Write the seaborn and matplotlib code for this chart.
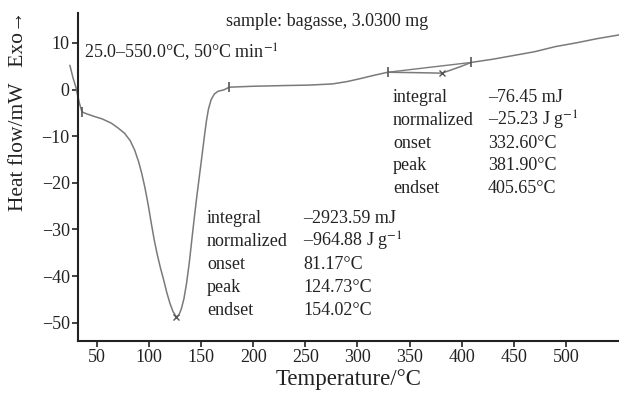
import matplotlib
matplotlib.use("Agg")
import matplotlib.pyplot as plt
import seaborn as sns
import pandas as pd

# ---- data ----
temperature = [24, 27, 30, 33, 35.6, 40, 47.8, 55, 63.7, 70, 76.6, 82, 86.2, 90, 93,
               96, 99, 102, 105, 108, 111, 114, 117, 120, 123, 126, 128.5, 131, 133.5,
               136, 138.5, 141, 143.5, 146, 148.5, 151, 153, 155, 157, 159.5, 162.5,
               166, 172, 177, 200, 230, 254, 276, 290, 302, 315, 322, 329, 345, 360,
               372, 381, 390, 400, 409, 430, 450, 470, 490, 510, 530, 551]
heat_flow = [5.2, 2.5, 0.3, -2.8, -4.8, -5.2, -5.8, -6.3, -7.2, -8.2, -9.4, -11.0,
             -13.0, -15.5, -18.0, -21.0, -24.5, -28.5, -32.3, -35.5, -38.3, -40.8,
             -43.5, -45.8, -47.6, -48.7, -48.4, -47.0, -44.8, -41.5, -37.3, -32.3,
             -27.3, -22.6, -18.2, -13.8, -10.2, -6.8, -4.2, -2.2, -1.0, -0.4, -0.05,
             0.5, 0.7, 0.85, 0.95, 1.2, 1.7, 2.3, 3.0, 3.35, 3.7, 3.65, 3.6, 3.55,
             3.5, 4.2, 5.0, 5.8, 6.5, 7.3, 8.1, 9.2, 10.0, 10.9, 11.7]
baseline_T = [329, 409]
baseline_HF = [3.7, 5.8]
limit_T = [35.6, 177, 329, 409]
limit_HF = [-4.8, 0.5, 3.7, 5.8]
peak_T = [126, 381]
peak_HF = [-48.7, 3.5]
x_ticks = [50, 100, 150, 200, 250, 300, 350, 400, 450, 500]
y_ticks = [-50, -40, -30, -20, -10, 0, 10]

table1_labels = ["integral", "normalized", "onset", "peak", "endset"]
table1_values = ["–2923.59 mJ", "–964.88 J g$^{-1}$", "81.17°C", "124.73°C", "154.02°C"]
table2_labels = ["integral", "normalized", "onset", "peak", "endset"]
table2_values = ["–76.45 mJ", "–25.23 J g$^{-1}$", "332.60°C", "381.90°C", "405.65°C"]

sns.set_theme(style="ticks")
plt.rcParams["font.family"] = ["Liberation Serif", "DejaVu Serif"]
plt.rcParams["mathtext.fontset"] = "stix"

W, H = 619, 398
fig = plt.figure(figsize=(W / 100, H / 100), dpi=100)
ax = fig.add_axes([78 / W, 1 - 341 / H, 541 / W, 328 / H])

curve = pd.DataFrame({"T": temperature, "HF": heat_flow})
sns.lineplot(data=curve, x="T", y="HF", sort=False, estimator=None, ax=ax,
             color="#7a7a7a", linewidth=1.1)
ax.lines[-1].set_clip_on(False)
sns.lineplot(x=baseline_T, y=baseline_HF, sort=False, estimator=None, ax=ax,
             color="#7a7a7a", linewidth=1.0)
ax.plot(limit_T, limit_HF, linestyle="none", marker="|", markersize=7,
        markeredgewidth=1.2, color="#555555")
ax.plot(peak_T, peak_HF, linestyle="none", marker="x", markersize=4,
        markeredgewidth=1.0, color="#555555")

ax.set_xlim(31.8, 551)
ax.set_ylim(-53.9, 16.4)
ax.set_xticks(x_ticks)
ax.set_yticks(y_ticks)
sns.despine(ax=ax)
for s in ("left", "bottom"):
    ax.spines[s].set_color("#222222")
    ax.spines[s].set_linewidth(1.5)
ax.tick_params(axis="both", direction="out", length=4, width=1.2, color="#222222",
               labelsize=13, labelcolor="#222222", pad=2)

ax.set_xlabel("Temperature/°C", fontsize=16.5, color="#222222", labelpad=2)
ax.set_ylabel("Heat flow/mW   Exo→", fontsize=15.5, color="#222222")
ax.yaxis.set_label_coords((28 - 78) / 541, (341 - 111) / 328)

def ftext(x, y, s, **kw):
    fig.text(x / W, 1 - y / H, s, fontsize=13, color="#222222", va="center", **kw)

ftext(226, 22, "sample: bagasse, 3.0300 mg")
ftext(84, 52, "25.0–550.0°C, 50°C min$^{-1}$")
for i, (lab, val) in enumerate(zip(table2_labels, table2_values)):
    y = 98 + 22.5 * i
    ftext(393, y, lab)
    ftext(488, y, val)
for i, (lab, val) in enumerate(zip(table1_labels, table1_values)):
    y = 218 + 23.2 * i
    ftext(207, y, lab)
    ftext(303, y, val)

fig.savefig("out.png", dpi=100)
